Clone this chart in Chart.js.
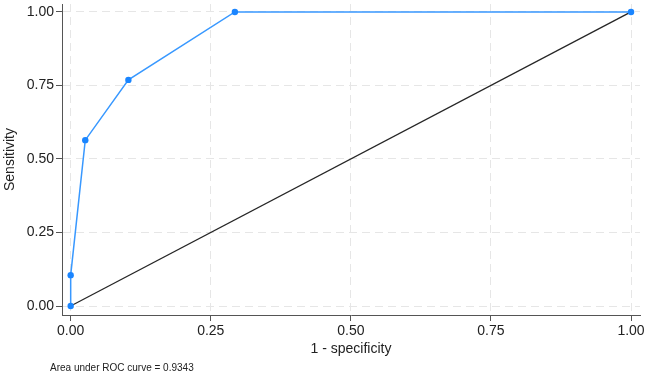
<!DOCTYPE html>
<html>
<head>
<meta charset="utf-8">
<script src="https://cdn.jsdelivr.net/npm/chart.js@4.4.0/dist/chart.umd.min.js"></script>
<style>
    html, body { margin: 0; padding: 0; background: #fff; }
    #wrap { width: 646px; height: 374px; }
</style>
</head>
<body>
<div id="wrap"><canvas id="chartRoc"></canvas></div>
<script>
// curva ROC (1 - especificidade x sensibilidade)
var fpr = [0, 0, 0.026, 0.103, 0.293, 1];
var tpr = [0, 0.105, 0.564, 0.769, 1, 1];
var refX = [0, 1];
var refY = [0, 1];
var tickValues = [0, 0.25, 0.5, 0.75, 1];
var textoArea = 'Area under ROC curve = 0.9343';

function montarPontos(xs, ys) {
    var pts = [];
    for (var i = 0; i < xs.length; i++) {
        pts.push({ x: xs[i], y: ys[i] });
    }
    return pts;
}

var fonte = "'Liberation Sans', Arial, sans-serif";

var notaArea = {
    id: 'notaArea',
    afterDraw: function (chart) {
        var ctx = chart.ctx;
        ctx.save();
        ctx.font = '10px ' + fonte;
        ctx.fillStyle = '#222';
        ctx.textBaseline = 'middle';
        ctx.fillText(textoArea, 50, 368);
        ctx.restore();
    }
};

function ticksFixos(scale) {
    scale.ticks = tickValues.map(function (v) { return { value: v }; });
}

var eixoGrid = {
    color: '#e6e6e6',
    lineWidth: 1,
    tickColor: '#555',
    tickBorderDash: [],
    tickLength: 6,
    tickWidth: 1
};

var eixoBorda = { display: true, color: '#555', width: 1, dash: [8, 5] };

const ctxRoc = document.getElementById('chartRoc');
var chartRoc = new Chart(ctxRoc, {
    type: 'scatter',
    data: {
        datasets: [{
            label: 'ROC',
            data: montarPontos(fpr, tpr),
            showLine: true,
            borderColor: '#3898ff',
            borderWidth: 1.5,
            backgroundColor: '#1a85ff',
            pointBackgroundColor: '#1a85ff',
            pointBorderColor: '#1a85ff',
            pointRadius: 3.2,
            pointBorderWidth: 0,
            order: 1
        }, {
            label: 'Referencia',
            data: montarPontos(refX, refY),
            showLine: true,
            borderColor: '#262626',
            borderWidth: 1.3,
            pointRadius: 0,
            order: 2
        }]
    },
    plugins: [notaArea],
    options: {
        responsive: true,
        maintainAspectRatio: false,
        animation: false,
        layout: {
            padding: { left: 0, right: 6, top: 3, bottom: 16 }
        },
        plugins: {
            legend: { display: false },
            tooltip: { enabled: false }
        },
        scales: {
            x: {
                type: 'linear',
                min: -0.0155,
                max: 1.016,
                afterBuildTicks: ticksFixos,
                afterFit: function (scale) {
                    scale.height = 43;
                    scale.paddingLeft = 0;
                    scale.paddingRight = 0;
                },
                border: eixoBorda,
                grid: eixoGrid,
                ticks: {
                    color: '#222',
                    padding: 2,
                    maxRotation: 0,
                    font: { family: fonte, size: 14 },
                    callback: function (v) { return Number(v).toFixed(2); }
                },
                title: {
                    display: true,
                    text: '1 - specificity',
                    color: '#222',
                    font: { family: fonte, size: 14 },
                    padding: { top: 0, bottom: 0 }
                }
            },
            y: {
                type: 'linear',
                min: -0.0305,
                max: 1.027,
                afterBuildTicks: ticksFixos,
                afterFit: function (scale) {
                    scale.width = 62;
                    scale.paddingTop = 0;
                    scale.paddingBottom = 0;
                },
                border: eixoBorda,
                grid: eixoGrid,
                ticks: {
                    color: '#222',
                    padding: 2,
                    font: { family: fonte, size: 14 },
                    callback: function (v) { return Number(v).toFixed(2); }
                },
                title: {
                    display: true,
                    text: 'Sensitivity',
                    color: '#222',
                    font: { family: fonte, size: 14 },
                    padding: { top: 2, bottom: 0 }
                }
            }
        }
    }
});
</script>
</body>
</html>
